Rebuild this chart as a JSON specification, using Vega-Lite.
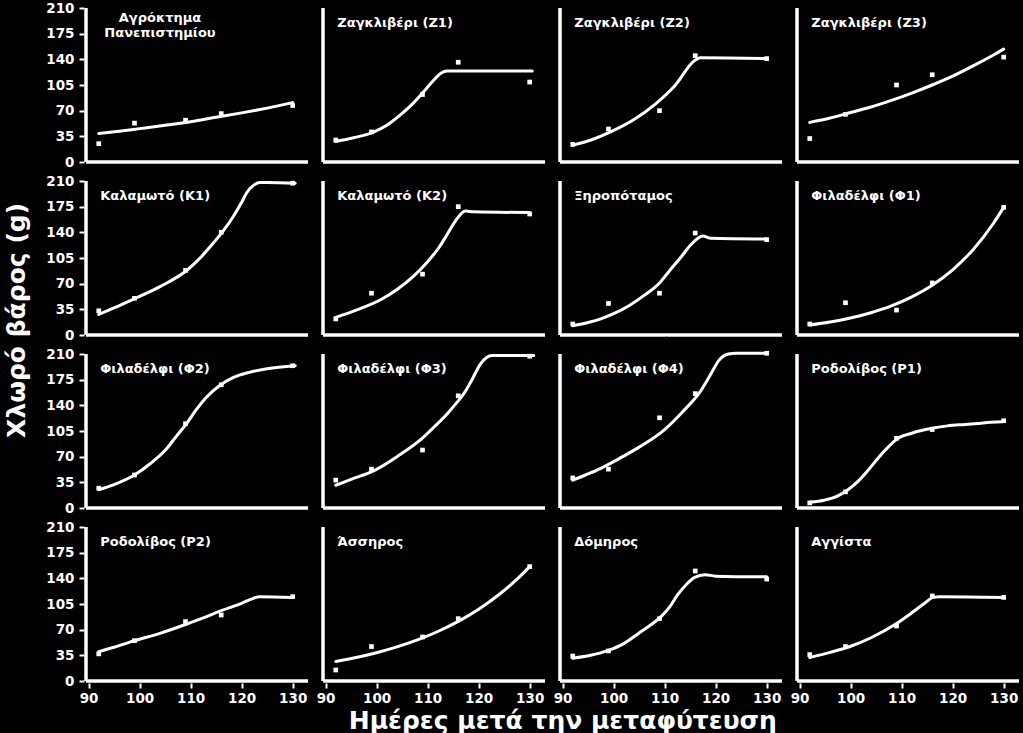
{
"$schema": "https://vega.github.io/schema/vega-lite/v6.json",
"background": "black",
"padding": {"left": 4, "top": -4, "right": 2, "bottom": 0},
"title": {"text": "Ημέρες μετά την μεταφύτευση", "orient": "bottom", "anchor": "middle", "color": "white", "font": "DejaVu Sans", "fontSize": 25, "fontWeight": "bold", "offset": 4, "dx": 50},
"data": {"values": [
{"site":"Αγρόκτημα Πανεπιστημίου","kind":"label","label":"Αγρόκτημα\nΠανεπιστημίου"},
{"site":"Ζαγκλιβέρι (Ζ1)","kind":"label","label":"Ζαγκλιβέρι (Ζ1)"},
{"site":"Ζαγκλιβέρι (Ζ2)","kind":"label","label":"Ζαγκλιβέρι (Ζ2)"},
{"site":"Ζαγκλιβέρι (Ζ3)","kind":"label","label":"Ζαγκλιβέρι (Ζ3)"},
{"site":"Καλαμωτό (Κ1)","kind":"label","label":"Καλαμωτό (Κ1)"},
{"site":"Καλαμωτό (Κ2)","kind":"label","label":"Καλαμωτό (Κ2)"},
{"site":"Ξηροπόταμος","kind":"label","label":"Ξηροπόταμος"},
{"site":"Φιλαδέλφι (Φ1)","kind":"label","label":"Φιλαδέλφι (Φ1)"},
{"site":"Φιλαδέλφι (Φ2)","kind":"label","label":"Φιλαδέλφι (Φ2)"},
{"site":"Φιλαδέλφι (Φ3)","kind":"label","label":"Φιλαδέλφι (Φ3)"},
{"site":"Φιλαδέλφι (Φ4)","kind":"label","label":"Φιλαδέλφι (Φ4)"},
{"site":"Ροδολίβος (Ρ1)","kind":"label","label":"Ροδολίβος (Ρ1)"},
{"site":"Ροδολίβος (Ρ2)","kind":"label","label":"Ροδολίβος (Ρ2)"},
{"site":"Άσσηρος","kind":"label","label":"Άσσηρος"},
{"site":"Δόμηρος","kind":"label","label":"Δόμηρος"},
{"site":"Αγγίστα","kind":"label","label":"Αγγίστα"},

{"site":"Αγρόκτημα Πανεπιστημίου","kind":"obs","day":92,"weight":25},
{"site":"Αγρόκτημα Πανεπιστημίου","kind":"obs","day":99,"weight":53},
{"site":"Αγρόκτημα Πανεπιστημίου","kind":"obs","day":109,"weight":57},
{"site":"Αγρόκτημα Πανεπιστημίου","kind":"obs","day":116,"weight":66},
{"site":"Αγρόκτημα Πανεπιστημίου","kind":"obs","day":130,"weight":77},
{"site":"Ζαγκλιβέρι (Ζ1)","kind":"obs","day":92,"weight":30},
{"site":"Ζαγκλιβέρι (Ζ1)","kind":"obs","day":99,"weight":41},
{"site":"Ζαγκλιβέρι (Ζ1)","kind":"obs","day":109,"weight":92},
{"site":"Ζαγκλιβέρι (Ζ1)","kind":"obs","day":116,"weight":136},
{"site":"Ζαγκλιβέρι (Ζ1)","kind":"obs","day":130,"weight":109},
{"site":"Ζαγκλιβέρι (Ζ2)","kind":"obs","day":92,"weight":24},
{"site":"Ζαγκλιβέρι (Ζ2)","kind":"obs","day":99,"weight":45},
{"site":"Ζαγκλιβέρι (Ζ2)","kind":"obs","day":109,"weight":70},
{"site":"Ζαγκλιβέρι (Ζ2)","kind":"obs","day":116,"weight":145},
{"site":"Ζαγκλιβέρι (Ζ2)","kind":"obs","day":130,"weight":141},
{"site":"Ζαγκλιβέρι (Ζ3)","kind":"obs","day":92,"weight":32},
{"site":"Ζαγκλιβέρι (Ζ3)","kind":"obs","day":99,"weight":65},
{"site":"Ζαγκλιβέρι (Ζ3)","kind":"obs","day":109,"weight":105},
{"site":"Ζαγκλιβέρι (Ζ3)","kind":"obs","day":116,"weight":119},
{"site":"Ζαγκλιβέρι (Ζ3)","kind":"obs","day":130,"weight":143},
{"site":"Καλαμωτό (Κ1)","kind":"obs","day":92,"weight":33},
{"site":"Καλαμωτό (Κ1)","kind":"obs","day":99,"weight":50},
{"site":"Καλαμωτό (Κ1)","kind":"obs","day":109,"weight":88},
{"site":"Καλαμωτό (Κ1)","kind":"obs","day":116,"weight":140},
{"site":"Καλαμωτό (Κ1)","kind":"obs","day":130,"weight":207},
{"site":"Καλαμωτό (Κ2)","kind":"obs","day":92,"weight":22},
{"site":"Καλαμωτό (Κ2)","kind":"obs","day":99,"weight":57},
{"site":"Καλαμωτό (Κ2)","kind":"obs","day":109,"weight":83},
{"site":"Καλαμωτό (Κ2)","kind":"obs","day":116,"weight":175},
{"site":"Καλαμωτό (Κ2)","kind":"obs","day":130,"weight":165},
{"site":"Ξηροπόταμος","kind":"obs","day":92,"weight":15},
{"site":"Ξηροπόταμος","kind":"obs","day":99,"weight":43},
{"site":"Ξηροπόταμος","kind":"obs","day":109,"weight":57},
{"site":"Ξηροπόταμος","kind":"obs","day":116,"weight":139},
{"site":"Ξηροπόταμος","kind":"obs","day":130,"weight":130},
{"site":"Φιλαδέλφι (Φ1)","kind":"obs","day":92,"weight":15},
{"site":"Φιλαδέλφι (Φ1)","kind":"obs","day":99,"weight":44},
{"site":"Φιλαδέλφι (Φ1)","kind":"obs","day":109,"weight":34},
{"site":"Φιλαδέλφι (Φ1)","kind":"obs","day":116,"weight":71},
{"site":"Φιλαδέλφι (Φ1)","kind":"obs","day":130,"weight":174},
{"site":"Φιλαδέλφι (Φ2)","kind":"obs","day":92,"weight":27},
{"site":"Φιλαδέλφι (Φ2)","kind":"obs","day":99,"weight":45},
{"site":"Φιλαδέλφι (Φ2)","kind":"obs","day":109,"weight":115},
{"site":"Φιλαδέλφι (Φ2)","kind":"obs","day":116,"weight":168},
{"site":"Φιλαδέλφι (Φ2)","kind":"obs","day":130,"weight":194},
{"site":"Φιλαδέλφι (Φ3)","kind":"obs","day":92,"weight":38},
{"site":"Φιλαδέλφι (Φ3)","kind":"obs","day":99,"weight":53},
{"site":"Φιλαδέλφι (Φ3)","kind":"obs","day":109,"weight":79},
{"site":"Φιλαδέλφι (Φ3)","kind":"obs","day":116,"weight":153},
{"site":"Φιλαδέλφι (Φ3)","kind":"obs","day":130,"weight":207},
{"site":"Φιλαδέλφι (Φ4)","kind":"obs","day":92,"weight":41},
{"site":"Φιλαδέλφι (Φ4)","kind":"obs","day":99,"weight":53},
{"site":"Φιλαδέλφι (Φ4)","kind":"obs","day":109,"weight":123},
{"site":"Φιλαδέλφι (Φ4)","kind":"obs","day":116,"weight":156},
{"site":"Φιλαδέλφι (Φ4)","kind":"obs","day":130,"weight":211},
{"site":"Ροδολίβος (Ρ1)","kind":"obs","day":92,"weight":7},
{"site":"Ροδολίβος (Ρ1)","kind":"obs","day":99,"weight":22},
{"site":"Ροδολίβος (Ρ1)","kind":"obs","day":109,"weight":95},
{"site":"Ροδολίβος (Ρ1)","kind":"obs","day":116,"weight":107},
{"site":"Ροδολίβος (Ρ1)","kind":"obs","day":130,"weight":119},
{"site":"Ροδολίβος (Ρ2)","kind":"obs","day":92,"weight":37},
{"site":"Ροδολίβος (Ρ2)","kind":"obs","day":99,"weight":55},
{"site":"Ροδολίβος (Ρ2)","kind":"obs","day":109,"weight":81},
{"site":"Ροδολίβος (Ρ2)","kind":"obs","day":116,"weight":90},
{"site":"Ροδολίβος (Ρ2)","kind":"obs","day":130,"weight":115},
{"site":"Άσσηρος","kind":"obs","day":92,"weight":15},
{"site":"Άσσηρος","kind":"obs","day":99,"weight":47},
{"site":"Άσσηρος","kind":"obs","day":109,"weight":60},
{"site":"Άσσηρος","kind":"obs","day":116,"weight":85},
{"site":"Άσσηρος","kind":"obs","day":130,"weight":156},
{"site":"Δόμηρος","kind":"obs","day":92,"weight":34},
{"site":"Δόμηρος","kind":"obs","day":99,"weight":41},
{"site":"Δόμηρος","kind":"obs","day":109,"weight":85},
{"site":"Δόμηρος","kind":"obs","day":116,"weight":150},
{"site":"Δόμηρος","kind":"obs","day":130,"weight":139},
{"site":"Αγγίστα","kind":"obs","day":92,"weight":36},
{"site":"Αγγίστα","kind":"obs","day":99,"weight":47},
{"site":"Αγγίστα","kind":"obs","day":109,"weight":75},
{"site":"Αγγίστα","kind":"obs","day":116,"weight":116},
{"site":"Αγγίστα","kind":"obs","day":130,"weight":114},

{"site":"Αγρόκτημα Πανεπιστημίου","kind":"fit","day":92,"weight":39},
{"site":"Αγρόκτημα Πανεπιστημίου","kind":"fit","day":96,"weight":42},
{"site":"Αγρόκτημα Πανεπιστημίου","kind":"fit","day":100,"weight":45.5},
{"site":"Αγρόκτημα Πανεπιστημίου","kind":"fit","day":105,"weight":50},
{"site":"Αγρόκτημα Πανεπιστημίου","kind":"fit","day":110,"weight":55},
{"site":"Αγρόκτημα Πανεπιστημίου","kind":"fit","day":115,"weight":61},
{"site":"Αγρόκτημα Πανεπιστημίου","kind":"fit","day":120,"weight":67},
{"site":"Αγρόκτημα Πανεπιστημίου","kind":"fit","day":125,"weight":73.5},
{"site":"Αγρόκτημα Πανεπιστημίου","kind":"fit","day":130,"weight":81},
{"site":"Ζαγκλιβέρι (Ζ1)","kind":"fit","day":92,"weight":28},
{"site":"Ζαγκλιβέρι (Ζ1)","kind":"fit","day":95.5,"weight":33},
{"site":"Ζαγκλιβέρι (Ζ1)","kind":"fit","day":99.5,"weight":41},
{"site":"Ζαγκλιβέρι (Ζ1)","kind":"fit","day":102,"weight":50},
{"site":"Ζαγκλιβέρι (Ζ1)","kind":"fit","day":104.6,"weight":64},
{"site":"Ζαγκλιβέρι (Ζ1)","kind":"fit","day":107,"weight":79},
{"site":"Ζαγκλιβέρι (Ζ1)","kind":"fit","day":109.1,"weight":95},
{"site":"Ζαγκλιβέρι (Ζ1)","kind":"fit","day":111,"weight":110},
{"site":"Ζαγκλιβέρι (Ζ1)","kind":"fit","day":112.6,"weight":121},
{"site":"Ζαγκλιβέρι (Ζ1)","kind":"fit","day":113.8,"weight":124},
{"site":"Ζαγκλιβέρι (Ζ1)","kind":"fit","day":130.5,"weight":124},
{"site":"Ζαγκλιβέρι (Ζ2)","kind":"fit","day":92,"weight":23},
{"site":"Ζαγκλιβέρι (Ζ2)","kind":"fit","day":96,"weight":31},
{"site":"Ζαγκλιβέρι (Ζ2)","kind":"fit","day":100,"weight":43},
{"site":"Ζαγκλιβέρι (Ζ2)","kind":"fit","day":104,"weight":58},
{"site":"Ζαγκλιβέρι (Ζ2)","kind":"fit","day":108,"weight":78},
{"site":"Ζαγκλιβέρι (Ζ2)","kind":"fit","day":112,"weight":104},
{"site":"Ζαγκλιβέρι (Ζ2)","kind":"fit","day":116,"weight":139},
{"site":"Ζαγκλιβέρι (Ζ2)","kind":"fit","day":117,"weight":142},
{"site":"Ζαγκλιβέρι (Ζ2)","kind":"fit","day":130,"weight":141},
{"site":"Ζαγκλιβέρι (Ζ3)","kind":"fit","day":92,"weight":54},
{"site":"Ζαγκλιβέρι (Ζ3)","kind":"fit","day":96,"weight":60},
{"site":"Ζαγκλιβέρι (Ζ3)","kind":"fit","day":100,"weight":67.5},
{"site":"Ζαγκλιβέρι (Ζ3)","kind":"fit","day":104,"weight":75},
{"site":"Ζαγκλιβέρι (Ζ3)","kind":"fit","day":108,"weight":84},
{"site":"Ζαγκλιβέρι (Ζ3)","kind":"fit","day":112,"weight":94},
{"site":"Ζαγκλιβέρι (Ζ3)","kind":"fit","day":116,"weight":105},
{"site":"Ζαγκλιβέρι (Ζ3)","kind":"fit","day":120,"weight":117},
{"site":"Ζαγκλιβέρι (Ζ3)","kind":"fit","day":124,"weight":131},
{"site":"Ζαγκλιβέρι (Ζ3)","kind":"fit","day":128,"weight":146},
{"site":"Ζαγκλιβέρι (Ζ3)","kind":"fit","day":130,"weight":154},
{"site":"Καλαμωτό (Κ1)","kind":"fit","day":92,"weight":28},
{"site":"Καλαμωτό (Κ1)","kind":"fit","day":95,"weight":37},
{"site":"Καλαμωτό (Κ1)","kind":"fit","day":98.5,"weight":48},
{"site":"Καλαμωτό (Κ1)","kind":"fit","day":104,"weight":66},
{"site":"Καλαμωτό (Κ1)","kind":"fit","day":109.4,"weight":89},
{"site":"Καλαμωτό (Κ1)","kind":"fit","day":112,"weight":106},
{"site":"Καλαμωτό (Κ1)","kind":"fit","day":114.4,"weight":125},
{"site":"Καλαμωτό (Κ1)","kind":"fit","day":116.5,"weight":143},
{"site":"Καλαμωτό (Κ1)","kind":"fit","day":118.3,"weight":161},
{"site":"Καλαμωτό (Κ1)","kind":"fit","day":120,"weight":181},
{"site":"Καλαμωτό (Κ1)","kind":"fit","day":121,"weight":194},
{"site":"Καλαμωτό (Κ1)","kind":"fit","day":122.3,"weight":204},
{"site":"Καλαμωτό (Κ1)","kind":"fit","day":123.5,"weight":208},
{"site":"Καλαμωτό (Κ1)","kind":"fit","day":125,"weight":208},
{"site":"Καλαμωτό (Κ1)","kind":"fit","day":130.5,"weight":207},
{"site":"Καλαμωτό (Κ2)","kind":"fit","day":92,"weight":24},
{"site":"Καλαμωτό (Κ2)","kind":"fit","day":96,"weight":34},
{"site":"Καλαμωτό (Κ2)","kind":"fit","day":100.8,"weight":48},
{"site":"Καλαμωτό (Κ2)","kind":"fit","day":104,"weight":62},
{"site":"Καλαμωτό (Κ2)","kind":"fit","day":107.2,"weight":80},
{"site":"Καλαμωτό (Κ2)","kind":"fit","day":110,"weight":100},
{"site":"Καλαμωτό (Κ2)","kind":"fit","day":112.3,"weight":120},
{"site":"Καλαμωτό (Κ2)","kind":"fit","day":114,"weight":139},
{"site":"Καλαμωτό (Κ2)","kind":"fit","day":115.5,"weight":156},
{"site":"Καλαμωτό (Κ2)","kind":"fit","day":117.4,"weight":169},
{"site":"Καλαμωτό (Κ2)","kind":"fit","day":119,"weight":168},
{"site":"Καλαμωτό (Κ2)","kind":"fit","day":130,"weight":167},
{"site":"Ξηροπόταμος","kind":"fit","day":92,"weight":12.5},
{"site":"Ξηροπόταμος","kind":"fit","day":95,"weight":17},
{"site":"Ξηροπόταμος","kind":"fit","day":97.5,"weight":22},
{"site":"Ξηροπόταμος","kind":"fit","day":100,"weight":29},
{"site":"Ξηροπόταμος","kind":"fit","day":103,"weight":40},
{"site":"Ξηροπόταμος","kind":"fit","day":106,"weight":54},
{"site":"Ξηροπόταμος","kind":"fit","day":109,"weight":71},
{"site":"Ξηροπόταμος","kind":"fit","day":111,"weight":88},
{"site":"Ξηροπόταμος","kind":"fit","day":113.3,"weight":107},
{"site":"Ξηροπόταμος","kind":"fit","day":115,"weight":122},
{"site":"Ξηροπόταμος","kind":"fit","day":117.5,"weight":135},
{"site":"Ξηροπόταμος","kind":"fit","day":119,"weight":132},
{"site":"Ξηροπόταμος","kind":"fit","day":130,"weight":131},
{"site":"Φιλαδέλφι (Φ1)","kind":"fit","day":92,"weight":13.5},
{"site":"Φιλαδέλφι (Φ1)","kind":"fit","day":96,"weight":17.6},
{"site":"Φιλαδέλφι (Φ1)","kind":"fit","day":100,"weight":23.1},
{"site":"Φιλαδέλφι (Φ1)","kind":"fit","day":104,"weight":30.3},
{"site":"Φιλαδέλφι (Φ1)","kind":"fit","day":108,"weight":39.6},
{"site":"Φιλαδέλφι (Φ1)","kind":"fit","day":112,"weight":51.9},
{"site":"Φιλαδέλφι (Φ1)","kind":"fit","day":116,"weight":67.9},
{"site":"Φιλαδέλφι (Φ1)","kind":"fit","day":120,"weight":88.9},
{"site":"Φιλαδέλφι (Φ1)","kind":"fit","day":124,"weight":116.4},
{"site":"Φιλαδέλφι (Φ1)","kind":"fit","day":128,"weight":152.4},
{"site":"Φιλαδέλφι (Φ1)","kind":"fit","day":130,"weight":174},
{"site":"Φιλαδέλφι (Φ2)","kind":"fit","day":92,"weight":25},
{"site":"Φιλαδέλφι (Φ2)","kind":"fit","day":95,"weight":32},
{"site":"Φιλαδέλφι (Φ2)","kind":"fit","day":99,"weight":45},
{"site":"Φιλαδέλφι (Φ2)","kind":"fit","day":102,"weight":60},
{"site":"Φιλαδέλφι (Φ2)","kind":"fit","day":105.2,"weight":80},
{"site":"Φιλαδέλφι (Φ2)","kind":"fit","day":107,"weight":96},
{"site":"Φιλαδέλφι (Φ2)","kind":"fit","day":109.2,"weight":115},
{"site":"Φιλαδέλφι (Φ2)","kind":"fit","day":111,"weight":133},
{"site":"Φιλαδέλφι (Φ2)","kind":"fit","day":113.1,"weight":151},
{"site":"Φιλαδέλφι (Φ2)","kind":"fit","day":115.5,"weight":166},
{"site":"Φιλαδέλφι (Φ2)","kind":"fit","day":118.4,"weight":178},
{"site":"Φιλαδέλφι (Φ2)","kind":"fit","day":121.5,"weight":185},
{"site":"Φιλαδέλφι (Φ2)","kind":"fit","day":125,"weight":190},
{"site":"Φιλαδέλφι (Φ2)","kind":"fit","day":130.5,"weight":194},
{"site":"Φιλαδέλφι (Φ3)","kind":"fit","day":92,"weight":31},
{"site":"Φιλαδέλφι (Φ3)","kind":"fit","day":95,"weight":39},
{"site":"Φιλαδέλφι (Φ3)","kind":"fit","day":99.5,"weight":51},
{"site":"Φιλαδέλφι (Φ3)","kind":"fit","day":104,"weight":70},
{"site":"Φιλαδέλφι (Φ3)","kind":"fit","day":109.1,"weight":96},
{"site":"Φιλαδέλφι (Φ3)","kind":"fit","day":111.5,"weight":112},
{"site":"Φιλαδέλφι (Φ3)","kind":"fit","day":113.9,"weight":129},
{"site":"Φιλαδέλφι (Φ3)","kind":"fit","day":115.5,"weight":142},
{"site":"Φιλαδέλφι (Φ3)","kind":"fit","day":117.2,"weight":157},
{"site":"Φιλαδέλφι (Φ3)","kind":"fit","day":118.7,"weight":175},
{"site":"Φιλαδέλφι (Φ3)","kind":"fit","day":120.3,"weight":196},
{"site":"Φιλαδέλφι (Φ3)","kind":"fit","day":121.5,"weight":205},
{"site":"Φιλαδέλφι (Φ3)","kind":"fit","day":122.6,"weight":208},
{"site":"Φιλαδέλφι (Φ3)","kind":"fit","day":130.8,"weight":208},
{"site":"Φιλαδέλφι (Φ4)","kind":"fit","day":92,"weight":38},
{"site":"Φιλαδέλφι (Φ4)","kind":"fit","day":94.5,"weight":45},
{"site":"Φιλαδέλφι (Φ4)","kind":"fit","day":97.5,"weight":54},
{"site":"Φιλαδέλφι (Φ4)","kind":"fit","day":101,"weight":67},
{"site":"Φιλαδέλφι (Φ4)","kind":"fit","day":105,"weight":83},
{"site":"Φιλαδέλφι (Φ4)","kind":"fit","day":110,"weight":107},
{"site":"Φιλαδέλφι (Φ4)","kind":"fit","day":113.5,"weight":131},
{"site":"Φιλαδέλφι (Φ4)","kind":"fit","day":116.9,"weight":158},
{"site":"Φιλαδέλφι (Φ4)","kind":"fit","day":119,"weight":182},
{"site":"Φιλαδέλφι (Φ4)","kind":"fit","day":120.6,"weight":201},
{"site":"Φιλαδέλφι (Φ4)","kind":"fit","day":122.5,"weight":210},
{"site":"Φιλαδέλφι (Φ4)","kind":"fit","day":124,"weight":211},
{"site":"Φιλαδέλφι (Φ4)","kind":"fit","day":130,"weight":211},
{"site":"Ροδολίβος (Ρ1)","kind":"fit","day":92,"weight":7.7},
{"site":"Ροδολίβος (Ρ1)","kind":"fit","day":95,"weight":11},
{"site":"Ροδολίβος (Ρ1)","kind":"fit","day":97.3,"weight":16},
{"site":"Ροδολίβος (Ρ1)","kind":"fit","day":99.5,"weight":25},
{"site":"Ροδολίβος (Ρ1)","kind":"fit","day":101.7,"weight":38},
{"site":"Ροδολίβος (Ρ1)","kind":"fit","day":103.5,"weight":52},
{"site":"Ροδολίβος (Ρ1)","kind":"fit","day":105.5,"weight":69},
{"site":"Ροδολίβος (Ρ1)","kind":"fit","day":107.5,"weight":84},
{"site":"Ροδολίβος (Ρ1)","kind":"fit","day":109.3,"weight":95},
{"site":"Ροδολίβος (Ρ1)","kind":"fit","day":112,"weight":102},
{"site":"Ροδολίβος (Ρ1)","kind":"fit","day":116.2,"weight":109},
{"site":"Ροδολίβος (Ρ1)","kind":"fit","day":119,"weight":112},
{"site":"Ροδολίβος (Ρ1)","kind":"fit","day":122.5,"weight":114},
{"site":"Ροδολίβος (Ρ1)","kind":"fit","day":126,"weight":116},
{"site":"Ροδολίβος (Ρ1)","kind":"fit","day":129.7,"weight":117.5},
{"site":"Ροδολίβος (Ρ2)","kind":"fit","day":92,"weight":40},
{"site":"Ροδολίβος (Ρ2)","kind":"fit","day":95,"weight":46},
{"site":"Ροδολίβος (Ρ2)","kind":"fit","day":99,"weight":55},
{"site":"Ροδολίβος (Ρ2)","kind":"fit","day":104,"weight":65},
{"site":"Ροδολίβος (Ρ2)","kind":"fit","day":109,"weight":77},
{"site":"Ροδολίβος (Ρ2)","kind":"fit","day":112.5,"weight":86},
{"site":"Ροδολίβος (Ρ2)","kind":"fit","day":116,"weight":96},
{"site":"Ροδολίβος (Ρ2)","kind":"fit","day":120,"weight":106},
{"site":"Ροδολίβος (Ρ2)","kind":"fit","day":122,"weight":112},
{"site":"Ροδολίβος (Ρ2)","kind":"fit","day":123.5,"weight":115},
{"site":"Ροδολίβος (Ρ2)","kind":"fit","day":130,"weight":114},
{"site":"Άσσηρος","kind":"fit","day":92,"weight":26.6},
{"site":"Άσσηρος","kind":"fit","day":96,"weight":32},
{"site":"Άσσηρος","kind":"fit","day":100,"weight":38.6},
{"site":"Άσσηρος","kind":"fit","day":104,"weight":46.5},
{"site":"Άσσηρος","kind":"fit","day":108,"weight":56},
{"site":"Άσσηρος","kind":"fit","day":112,"weight":67.5},
{"site":"Άσσηρος","kind":"fit","day":116,"weight":81.3},
{"site":"Άσσηρος","kind":"fit","day":120,"weight":97.9},
{"site":"Άσσηρος","kind":"fit","day":124,"weight":118},
{"site":"Άσσηρος","kind":"fit","day":128,"weight":142},
{"site":"Άσσηρος","kind":"fit","day":130,"weight":156},
{"site":"Δόμηρος","kind":"fit","day":92,"weight":31},
{"site":"Δόμηρος","kind":"fit","day":95.5,"weight":35},
{"site":"Δόμηρος","kind":"fit","day":98.7,"weight":41},
{"site":"Δόμηρος","kind":"fit","day":102,"weight":51},
{"site":"Δόμηρος","kind":"fit","day":105,"weight":65.6},
{"site":"Δόμηρος","kind":"fit","day":107,"weight":75},
{"site":"Δόμηρος","kind":"fit","day":109.2,"weight":87},
{"site":"Δόμηρος","kind":"fit","day":111,"weight":101},
{"site":"Δόμηρος","kind":"fit","day":112.6,"weight":118},
{"site":"Δόμηρος","kind":"fit","day":114.3,"weight":132},
{"site":"Δόμηρος","kind":"fit","day":115.8,"weight":141},
{"site":"Δόμηρος","kind":"fit","day":117.9,"weight":145},
{"site":"Δόμηρος","kind":"fit","day":120,"weight":143},
{"site":"Δόμηρος","kind":"fit","day":130,"weight":142},
{"site":"Αγγίστα","kind":"fit","day":92,"weight":32},
{"site":"Αγγίστα","kind":"fit","day":96,"weight":39},
{"site":"Αγγίστα","kind":"fit","day":99.9,"weight":47},
{"site":"Αγγίστα","kind":"fit","day":104,"weight":59},
{"site":"Αγγίστα","kind":"fit","day":108.7,"weight":77},
{"site":"Αγγίστα","kind":"fit","day":112,"weight":93},
{"site":"Αγγίστα","kind":"fit","day":114.5,"weight":106},
{"site":"Αγγίστα","kind":"fit","day":116.2,"weight":114},
{"site":"Αγγίστα","kind":"fit","day":117.5,"weight":115},
{"site":"Αγγίστα","kind":"fit","day":130,"weight":114}
]},
"vconcat": [{
"title": {"text": "Χλωρό βάρος (g)", "orient": "left", "anchor": "middle", "color": "white", "font": "DejaVu Sans", "fontSize": 25, "fontWeight": "bold", "offset": 16, "dx": 30},
"facet": {"field": "site", "type": "nominal", "title": null,
  "sort": ["Αγρόκτημα Πανεπιστημίου","Ζαγκλιβέρι (Ζ1)","Ζαγκλιβέρι (Ζ2)","Ζαγκλιβέρι (Ζ3)","Καλαμωτό (Κ1)","Καλαμωτό (Κ2)","Ξηροπόταμος","Φιλαδέλφι (Φ1)","Φιλαδέλφι (Φ2)","Φιλαδέλφι (Φ3)","Φιλαδέλφι (Φ4)","Ροδολίβος (Ρ1)","Ροδολίβος (Ρ2)","Άσσηρος","Δόμηρος","Αγγίστα"],
  "header": {"labels": false, "title": null, "labelPadding": 0, "titlePadding": 0}},
"columns": 4,
"spacing": {"row": 0, "column": 11},
"spec": {
  "width": 222, "height": 154,
  "layer": [
    {"transform": [{"filter": "datum.kind === 'fit'"}],
     "mark": {"type": "line", "color": "white", "strokeWidth": 3, "interpolate": "monotone", "strokeCap": "round"},
     "encoding": {
       "x": {"field": "day", "type": "quantitative", "scale": {"domain": [89.5, 133], "nice": false, "zero": false}, "axis": {"values": [90, 100, 110, 120, 130], "title": null}},
       "y": {"field": "weight", "type": "quantitative", "scale": {"domain": [0, 210], "nice": false}, "axis": {"values": [0, 35, 70, 105, 140, 175, 210], "title": null}}}},
    {"transform": [{"filter": "datum.kind === 'label'"}],
     "mark": {"type": "rule", "color": "white", "strokeWidth": 3.5},
     "encoding": {"x": {"datum": 89.5, "type": "quantitative", "axis": {"values": [90, 100, 110, 120, 130], "title": null}}, "y": {"datum": 0, "type": "quantitative", "axis": {"values": [0, 35, 70, 105, 140, 175, 210], "title": null}}, "y2": {"datum": 210}}},
    {"transform": [{"filter": "datum.kind === 'label'"}],
     "mark": {"type": "rule", "color": "white", "strokeWidth": 3.5},
     "encoding": {"x": {"datum": 89.5, "type": "quantitative", "axis": {"values": [90, 100, 110, 120, 130], "title": null}}, "x2": {"datum": 133}, "y": {"datum": 0, "type": "quantitative", "axis": {"values": [0, 35, 70, 105, 140, 175, 210], "title": null}}}},
    {"transform": [{"filter": "datum.kind === 'obs'"}],
     "mark": {"type": "square", "color": "white", "filled": true, "opacity": 1, "size": 22},
     "encoding": {"x": {"field": "day", "type": "quantitative", "axis": {"values": [90, 100, 110, 120, 130], "title": null}}, "y": {"field": "weight", "type": "quantitative", "axis": {"values": [0, 35, 70, 105, 140, 175, 210], "title": null}}}},
    {"transform": [{"filter": "datum.kind === 'label' && datum.site !== 'Αγρόκτημα Πανεπιστημίου'"}],
     "mark": {"type": "text", "color": "white", "align": "left", "baseline": "middle", "font": "DejaVu Sans", "fontWeight": "bold", "fontSize": 13},
     "encoding": {"x": {"datum": 92.3, "type": "quantitative", "axis": {"values": [90, 100, 110, 120, 130], "title": null}}, "y": {"datum": 190, "type": "quantitative", "axis": {"values": [0, 35, 70, 105, 140, 175, 210], "title": null}}, "text": {"field": "label"}}},
    {"transform": [{"filter": "datum.kind === 'label' && datum.site === 'Αγρόκτημα Πανεπιστημίου'"}],
     "mark": {"type": "text", "color": "white", "align": "center", "baseline": "middle", "font": "DejaVu Sans", "fontWeight": "bold", "fontSize": 13, "lineBreak": "\n", "lineHeight": 15},
     "encoding": {"x": {"datum": 104, "type": "quantitative", "axis": {"values": [90, 100, 110, 120, 130], "title": null}}, "y": {"datum": 196, "type": "quantitative", "axis": {"values": [0, 35, 70, 105, 140, 175, 210], "title": null}}, "text": {"field": "label"}}}
  ]
}
}],
"config": {
  "view": {"stroke": null},
  "axis": {"domain": false, "grid": false, "ticks": true, "tickColor": "white", "tickWidth": 2, "tickSize": 5, "labelColor": "white", "labelFont": "DejaVu Sans", "labelFontWeight": "bold", "labelFontSize": 13.5, "labelPadding": 3, "labelOverlap": false},
  "axisX": {"labelFlush": false},
  "axisY": {"labelPadding": 5}
}
}
